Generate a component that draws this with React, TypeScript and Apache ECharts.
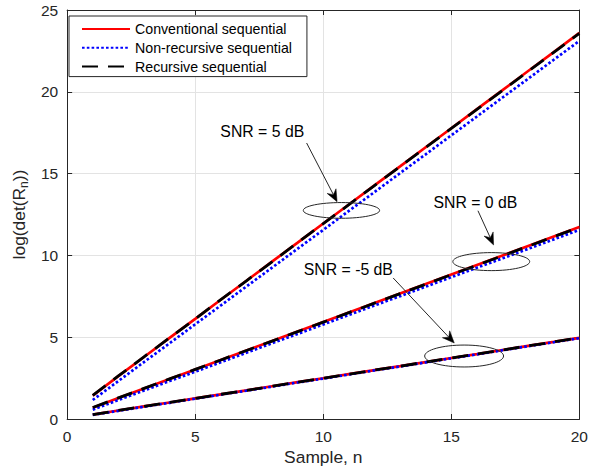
import React, { useEffect, useRef } from "react";
import * as echarts from "echarts";

const samples = [1, 2, 3, 4, 5, 6, 7, 8, 9, 10, 11, 12, 13, 14, 15, 16, 17, 18, 19, 20];

const legendNames = ["Conventional sequential", "Non-recursive sequential", "Recursive sequential"];

// SNR = 5 dB
const conv5 = [1.43, 2.62, 3.79, 4.96, 6.12, 7.29, 8.45, 9.62, 10.78, 11.95, 13.11, 14.28, 15.44, 16.61, 17.77, 18.94, 20.1, 21.27, 22.43, 23.6];
const nonrec5 = [1.16, 2.32, 3.48, 4.63, 5.79, 6.94, 8.1, 9.25, 10.41, 11.56, 12.72, 13.87, 15.03, 16.18, 17.34, 18.49, 19.65, 20.8, 21.96, 23.11];
const rec5 = [1.45, 2.63, 3.8, 4.96, 6.12, 7.29, 8.45, 9.61, 10.78, 11.94, 13.1, 14.27, 15.43, 16.59, 17.76, 18.92, 20.08, 21.25, 22.41, 23.57];
// SNR = 0 dB
const conv0 = [0.69, 1.29, 1.87, 2.45, 3.03, 3.61, 4.19, 4.77, 5.35, 5.93, 6.51, 7.09, 7.67, 8.25, 8.83, 9.41, 9.99, 10.57, 11.15, 11.73];
const nonrec0 = [0.57, 1.16, 1.74, 2.32, 2.89, 3.47, 4.05, 4.63, 5.2, 5.78, 6.36, 6.94, 7.51, 8.09, 8.67, 9.25, 9.82, 10.4, 10.98, 11.56];
const rec0 = [0.7, 1.29, 1.87, 2.45, 3.03, 3.61, 4.19, 4.76, 5.34, 5.92, 6.5, 7.08, 7.66, 8.24, 8.82, 9.4, 9.98, 10.56, 11.14, 11.72];
// SNR = -5 dB
const convM5 = [0.27, 0.52, 0.77, 1.01, 1.26, 1.51, 1.75, 2.0, 2.25, 2.49, 2.74, 2.99, 3.23, 3.48, 3.73, 3.97, 4.22, 4.47, 4.71, 4.96];
const nonrecM5 = [0.25, 0.5, 0.75, 0.99, 1.24, 1.49, 1.73, 1.98, 2.23, 2.47, 2.72, 2.97, 3.21, 3.46, 3.71, 3.95, 4.2, 4.45, 4.69, 4.94];
const recM5 = [0.27, 0.52, 0.77, 1.01, 1.26, 1.51, 1.75, 2.0, 2.25, 2.49, 2.74, 2.99, 3.23, 3.48, 3.73, 3.97, 4.22, 4.47, 4.71, 4.96];

// annotations in data units
const annotationLabels = ["SNR = 5 dB", "SNR = 0 dB", "SNR = -5 dB"];
const annotationTextAt = [[7.62, 17.6], [15.94, 13.26], [10.98, 9.11]];
const annotationArrowFrom = [[9.35, 16.87], [16.04, 12.73], [12.73, 8.62]];
const annotationArrowTo = [[10.54, 13.28], [16.65, 10.64], [15.115, 4.645]];
const annotationEllipseAt = [[10.71, 12.75], [16.56, 9.62], [15.5, 3.85]];
const annotationEllipseR = [[1.49, 0.48], [1.5, 0.55], [1.54, 0.67]];

const FONT = "'Liberation Sans', Arial, Helvetica, sans-serif";
const AXIS_COLOR = "#262626";

const pair = (ys: number[]) => samples.map((x, i) => [x, ys[i]]);

const redStyle = { color: "#ff0000", width: 2.7, type: "solid" as const };
const blueStyle = { color: "#0000ff", width: 2.7, type: [2.6, 2.2], cap: "butt" as const };
const blackStyle = { color: "#000000", width: 2.8, type: [16, 10], cap: "butt" as const };

function mkSeries(name: string, ys: number[], lineStyle: any, z: number) {
  return {
    type: "line",
    name,
    data: pair(ys),
    showSymbol: false,
    symbol: "none",
    lineStyle,
    itemStyle: { color: lineStyle.color },
    z,
    silent: true,
  };
}

export default function App() {
  const ref = useRef<HTMLDivElement>(null);
  useEffect(() => {
    if (!ref.current) return;
    const chart = echarts.init(ref.current, null, { renderer: "svg" });
    const option: any = {
      animation: false,
      backgroundColor: "#ffffff",
      grid: { left: 62, top: 10, right: 9, bottom: 56, containLabel: false },
      legend: {
        orient: "vertical",
        left: 69,
        top: 16,
        itemWidth: 48,
        itemHeight: 14,
        itemGap: 4.8,
        padding: [6, 15, 3, 12],
        borderColor: AXIS_COLOR,
        borderWidth: 1,
        borderRadius: 0,
        backgroundColor: "#ffffff",
        selectedMode: false,
        itemStyle: { opacity: 0, borderWidth: 0 },
        textStyle: { fontFamily: FONT, fontSize: 14.2, color: "#000000" },
        data: legendNames,
        z: 20,
      },
      xAxis: [
        {
          type: "value",
          min: 0,
          max: 20,
          interval: 5,
          position: "bottom",
          axisLine: { show: true, onZero: false, lineStyle: { color: AXIS_COLOR, width: 1 } },
          axisTick: { show: true, inside: true, length: 5, lineStyle: { color: AXIS_COLOR } },
          axisLabel: { fontFamily: FONT, fontSize: 15.5, color: AXIS_COLOR, margin: 9 },
          splitLine: { show: true, lineStyle: { color: "#e3e3e3", width: 1 } },
          name: "Sample, n",
          nameLocation: "middle",
          nameGap: 29,
          nameTextStyle: { fontFamily: FONT, fontSize: 17.4, color: AXIS_COLOR },
        },
        {
          type: "value",
          min: 0,
          max: 20,
          interval: 5,
          position: "top",
          axisLine: { show: true, onZero: false, lineStyle: { color: AXIS_COLOR, width: 1 } },
          axisTick: { show: true, inside: true, length: 5, lineStyle: { color: AXIS_COLOR } },
          axisLabel: { show: false },
          splitLine: { show: false },
        },
      ],
      yAxis: [
        {
          type: "value",
          min: 0,
          max: 25,
          interval: 5,
          position: "left",
          axisLine: { show: true, onZero: false, lineStyle: { color: AXIS_COLOR, width: 1 } },
          axisTick: { show: true, inside: true, length: 5, lineStyle: { color: AXIS_COLOR } },
          axisLabel: { fontFamily: FONT, fontSize: 15.5, color: AXIS_COLOR, margin: 9 },
          splitLine: { show: true, lineStyle: { color: "#e3e3e3", width: 1 } },
          name: "{a|log(det(R}{b|n}{a|))}",
          nameLocation: "middle",
          nameGap: 33,
          nameTextStyle: {
            fontFamily: FONT,
            color: AXIS_COLOR,
            rich: {
              a: { fontFamily: FONT, fontSize: 17.4, color: AXIS_COLOR, lineHeight: 22 },
              b: { fontFamily: FONT, fontSize: 12, color: AXIS_COLOR, lineHeight: 14, padding: [10, 0, 0, 0], verticalAlign: "bottom" },
            },
          },
        },
        {
          type: "value",
          min: 0,
          max: 25,
          interval: 5,
          position: "right",
          axisLine: { show: true, onZero: false, lineStyle: { color: AXIS_COLOR, width: 1 } },
          axisTick: { show: true, inside: true, length: 5, lineStyle: { color: AXIS_COLOR } },
          axisLabel: { show: false },
          splitLine: { show: false },
        },
      ],
      series: [
        mkSeries(legendNames[0], conv5, redStyle, 2),
        mkSeries(legendNames[0], conv0, redStyle, 2),
        mkSeries(legendNames[0], convM5, redStyle, 2),
        mkSeries(legendNames[1], nonrec5, blueStyle, 3),
        mkSeries(legendNames[1], nonrec0, blueStyle, 3),
        mkSeries(legendNames[1], nonrecM5, blueStyle, 3),
        mkSeries(legendNames[2], rec5, blackStyle, 4),
        mkSeries(legendNames[2], rec0, blackStyle, 4),
        mkSeries(legendNames[2], recM5, blackStyle, 4),
      ],
    };
    chart.setOption(option);

    const px = (p: number[]) => chart.convertToPixel({ xAxisIndex: 0, yAxisIndex: 0 }, p) as number[];
    const graphics: any[] = [];
    annotationLabels.forEach((label, i) => {
      const t = px(annotationTextAt[i]);
      const a0 = px(annotationArrowFrom[i]);
      const a1 = px(annotationArrowTo[i]);
      const ec = px(annotationEllipseAt[i]);
      const er = px([annotationEllipseAt[i][0] + annotationEllipseR[i][0], annotationEllipseAt[i][1] + annotationEllipseR[i][1]]);
      const rx = Math.abs(er[0] - ec[0]);
      const ry = Math.abs(er[1] - ec[1]);
      graphics.push({
        type: "text",
        z: 30,
        style: { text: label, x: t[0], y: t[1], fill: "#000000", font: `15.8px ${FONT}`, align: "center", verticalAlign: "middle" },
      });
      graphics.push({
        type: "ellipse",
        z: 30,
        shape: { cx: ec[0], cy: ec[1], rx, ry },
        style: { fill: "none", stroke: "#262626", lineWidth: 1 },
      });
      const dx = a1[0] - a0[0];
      const dy = a1[1] - a0[1];
      const len = Math.sqrt(dx * dx + dy * dy);
      const ux = dx / len;
      const uy = dy / len;
      const pxp = -uy;
      const pyp = ux;
      const L = 12;
      const W = 5;
      const notch = 8;
      graphics.push({
        type: "line",
        z: 30,
        shape: { x1: a0[0], y1: a0[1], x2: a1[0] - ux * notch, y2: a1[1] - uy * notch },
        style: { stroke: "#262626", lineWidth: 1 },
      });
      graphics.push({
        type: "polygon",
        z: 31,
        shape: {
          points: [
            [a1[0], a1[1]],
            [a1[0] - ux * L + pxp * W, a1[1] - uy * L + pyp * W],
            [a1[0] - ux * notch, a1[1] - uy * notch],
            [a1[0] - ux * L - pxp * W, a1[1] - uy * L - pyp * W],
          ],
        },
        style: { fill: "#000000", stroke: "#000000", lineWidth: 0.5 },
      });
    });
    chart.setOption({ graphic: graphics });

    return () => chart.dispose();
  }, []);
  return <div ref={ref} style={{ position: "fixed", left: 0, top: 0, width: 591, height: 475 }} />;
}
